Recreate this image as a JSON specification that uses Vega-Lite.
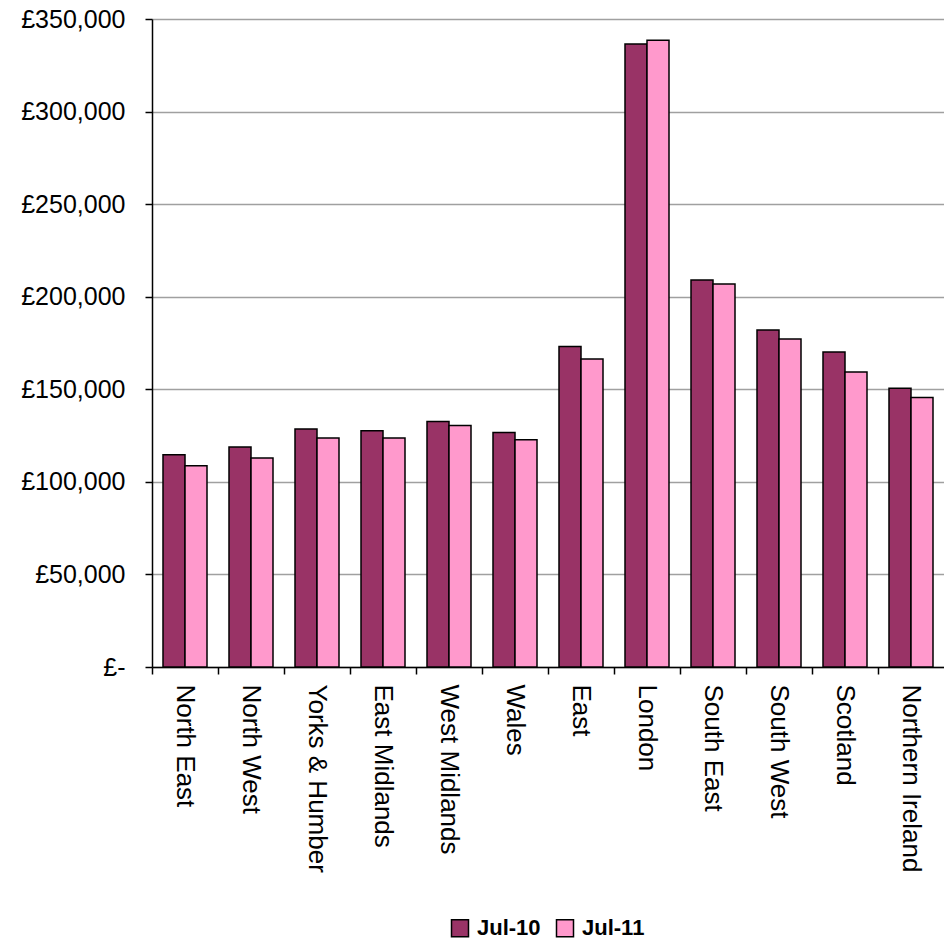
{
  "$schema": "https://vega.github.io/schema/vega-lite/v6.json",
  "width": 792,
  "height": 648,
  "autosize": {"type": "none"},
  "padding": {"left": 152, "top": 19, "right": 0, "bottom": 273},
  "background": "white",
  "config": {
    "view": {"stroke": null},
    "font": "Liberation Sans"
  },
  "data": {
    "values": [
      {"region": "North East", "period": "Jul-10", "price": 114700},
      {"region": "North East", "period": "Jul-11", "price": 108700},
      {"region": "North West", "period": "Jul-10", "price": 118800},
      {"region": "North West", "period": "Jul-11", "price": 112900},
      {"region": "Yorks & Humber", "period": "Jul-10", "price": 128500},
      {"region": "Yorks & Humber", "period": "Jul-11", "price": 123700},
      {"region": "East Midlands", "period": "Jul-10", "price": 127600},
      {"region": "East Midlands", "period": "Jul-11", "price": 123700},
      {"region": "West Midlands", "period": "Jul-10", "price": 132600},
      {"region": "West Midlands", "period": "Jul-11", "price": 130400},
      {"region": "Wales", "period": "Jul-10", "price": 126700},
      {"region": "Wales", "period": "Jul-11", "price": 122700},
      {"region": "East", "period": "Jul-10", "price": 173100},
      {"region": "East", "period": "Jul-11", "price": 166300},
      {"region": "London", "period": "Jul-10", "price": 336500},
      {"region": "London", "period": "Jul-11", "price": 338500},
      {"region": "South East", "period": "Jul-10", "price": 209000},
      {"region": "South East", "period": "Jul-11", "price": 206800},
      {"region": "South West", "period": "Jul-10", "price": 182000},
      {"region": "South West", "period": "Jul-11", "price": 177100},
      {"region": "Scotland", "period": "Jul-10", "price": 170200},
      {"region": "Scotland", "period": "Jul-11", "price": 159400},
      {"region": "Northern Ireland", "period": "Jul-10", "price": 150500},
      {"region": "Northern Ireland", "period": "Jul-11", "price": 145600}
    ]
  },
  "mark": {"type": "bar", "stroke": "black", "strokeWidth": 1.5},
  "encoding": {
    "x": {
      "field": "region",
      "type": "nominal",
      "sort": null,
      "scale": {"paddingInner": 0, "paddingOuter": 0},
      "axis": {
        "title": null,
        "labelAngle": 90,
        "labelFont": "Liberation Sans",
        "labelFontSize": 26,
        "labelColor": "black",
        "labelPadding": 10,
        "labelLimit": 300,
        "domainColor": "black",
        "domainWidth": 1.5,
        "tickColor": "black",
        "tickWidth": 1.5,
        "tickSize": 7,
        "bandPosition": 0,
        "grid": false
      }
    },
    "xOffset": {
      "field": "period",
      "type": "nominal",
      "scale": {"paddingInner": 0, "paddingOuter": 0.5}
    },
    "y": {
      "field": "price",
      "type": "quantitative",
      "scale": {"domain": [0, 350000], "nice": false},
      "axis": {
        "title": null,
        "values": [0, 50000, 100000, 150000, 200000, 250000, 300000, 350000],
        "labelExpr": "datum.value == 0 ? '£-' : '£' + format(datum.value, ',')",
        "labelFont": "Liberation Sans",
        "labelFontSize": 25,
        "labelColor": "black",
        "labelPadding": 20,
        "domainColor": "black",
        "domainWidth": 1.5,
        "tickColor": "black",
        "tickWidth": 1.5,
        "tickSize": 7,
        "grid": true,
        "gridColor": "#a0a0a0",
        "gridWidth": 1.5
      }
    },
    "color": {
      "field": "period",
      "type": "nominal",
      "scale": {"domain": ["Jul-10", "Jul-11"], "range": ["#993366", "#FF99CC"]},
      "legend": {
        "title": null,
        "orient": "none",
        "direction": "horizontal",
        "legendX": 297,
        "legendY": 898,
        "symbolType": "square",
        "symbolSize": 289,
        "symbolStrokeColor": "black",
        "symbolStrokeWidth": 1.5,
        "symbolOpacity": 1,
        "labelFont": "Liberation Sans",
        "labelFontSize": 22,
        "labelFontWeight": "bold",
        "labelColor": "black",
        "labelOffset": 6,
        "labelLimit": 200,
        "columnPadding": 12
      }
    }
  }
}
